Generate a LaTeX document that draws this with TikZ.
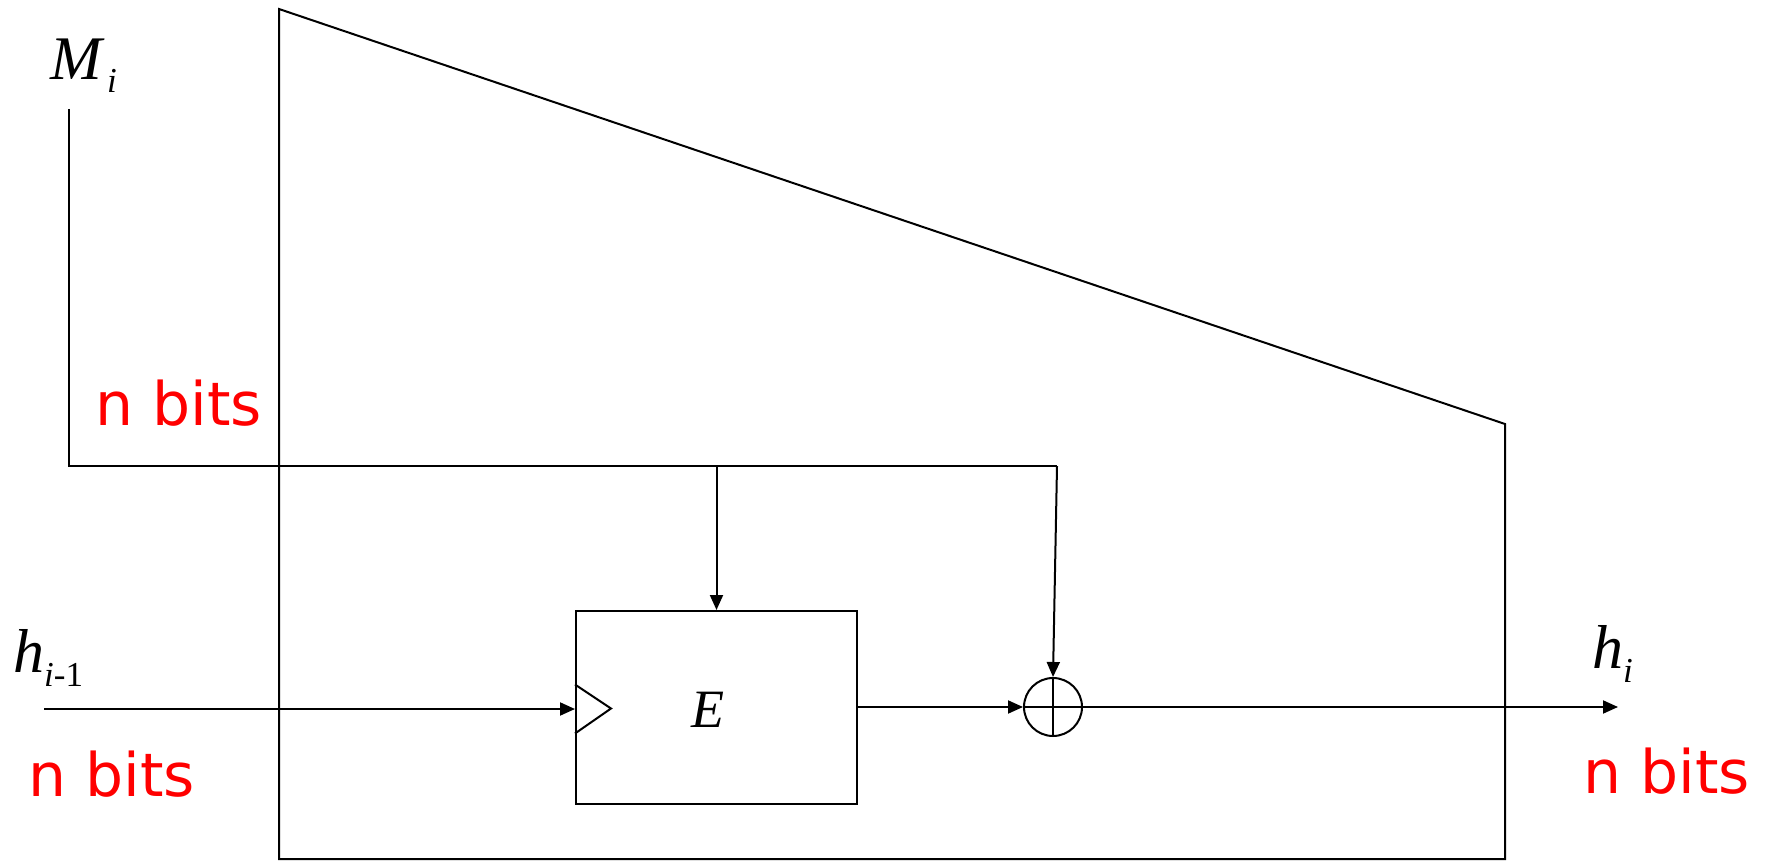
\documentclass[tikz,border=0pt]{standalone}
\usepackage{fontspec}
\setmainfont{Liberation Serif}
\newfontfamily\bitsfont{DejaVu Sans}
\usetikzlibrary{arrows.meta,calc}
\definecolor{bitred}{RGB}{255,0,0}
\tikzset{
  wire/.style={line width=2pt, draw=black},
  arr/.style={wire, -{Triangle[length=15pt,width=13pt]}},
  bits/.style={text=bitred, inner sep=0pt, anchor=base west, font=\bitsfont\fontsize{60}{60}\selectfont},
  varlabel/.style={inner sep=0pt, anchor=base west, font=\fontsize{62}{62}\selectfont\itshape},
  subs/.style={inner sep=0pt, anchor=base west, font=\fontsize{35}{35}\selectfont},
}
\begin{document}
\begin{tikzpicture}[x=1pt,y=-1pt]
\useasboundingbox (0,0) rectangle (1767,861);
% trapezoid frame
\draw[wire, line join=miter] (279,9) -- (279,859) -- (1505,859) -- (1505,424) -- cycle;
% encryption box and xor
\node[wire, draw, minimum width=281pt, minimum height=193pt, inner sep=0pt] (E) at (716.5,707.5) {};
\node[inner sep=0pt, font=\fontsize{54}{54}\selectfont\itshape] (Elbl) at (708,710) {E};
\draw[wire] ($(E.west)+(0,-23)$) -- ($(E.west)+(36,1)$) -- ($(E.west)+(0,26)$);
\node[wire, draw, circle, minimum size=58pt, inner sep=0pt] (x) at (1053,707) {};
\draw[wire] (x.north) -- (x.south);
\draw[wire] (x.west) -- (x.east);
% coordinates
\coordinate (mtop) at (69,109);
\coordinate (mcorner) at (1057,466);
\coordinate (branch) at (E.north |- mcorner);
\coordinate (hin) at (44,709);
\coordinate (hout) at (1618,707);
% connectors
\draw[wire] (mtop) |- (mcorner);
\draw[arr] (mcorner) -- (x.north);
\draw[arr] (branch) -- (E.north);
\draw[arr] (hin) -- (hin -| E.west);
\draw[arr] (E.east |- x.west) -- (x.west);
\draw[arr] (x.east) -- (hout);
% labels
\node[varlabel] (M) at (50,80) {M};
\node[subs, font=\fontsize{35}{35}\selectfont\itshape] (Mi) at (107,93) {i};
\node[varlabel] (h0) at (13,672) {h};
\node[subs] (h0i) at (44,686) {\textit{i}-1};
\node[varlabel] (h1) at (1592,668) {h};
\node[subs, font=\fontsize{35}{35}\selectfont\itshape] (h1i) at (1623,682) {i};
\node[bits] (b1) at (95,425) {n bits};
\node[bits] (b2) at (28,796) {n bits};
\node[bits] (b3) at (1583,793) {n bits};
\end{tikzpicture}
\end{document}
